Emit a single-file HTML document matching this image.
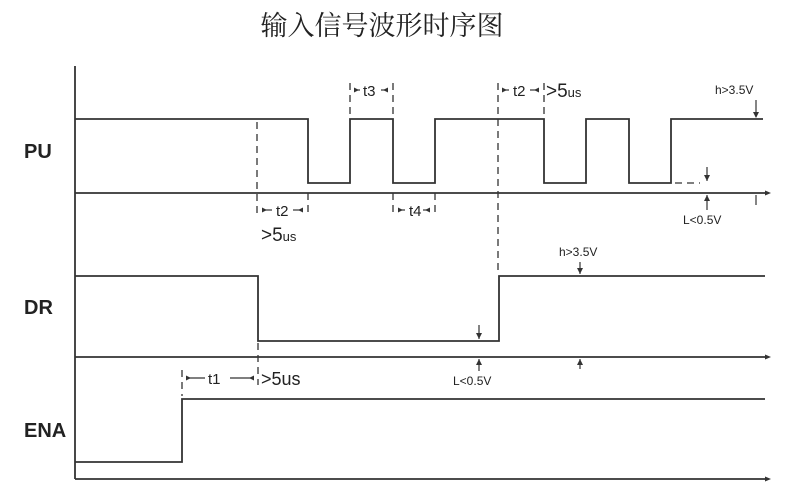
<!DOCTYPE html>
<html><head><meta charset="utf-8"><style>
body{margin:0;background:#fff;width:800px;height:499px;overflow:hidden}
svg{display:block}
text{font-family:"Liberation Sans","DejaVu Sans",sans-serif;fill:#222}
</style></head><body>
<svg width="800" height="499" viewBox="0 0 800 499">
<text x="382" y="35" font-size="27" text-anchor="middle" style='font-family:"Noto Serif CJK SC","Noto Sans CJK SC",serif' fill="#333">输入信号波形时序图</text>
<g stroke="#333" stroke-width="1.8" fill="none">
<line x1="75" y1="66" x2="75" y2="479"/>
<line x1="75" y1="193" x2="765" y2="193"/>
<line x1="75" y1="357" x2="765" y2="357"/>
<line x1="75" y1="479" x2="765" y2="479"/>
<polyline points="75,119 308,119 308,183 350,183 350,119 393,119 393,183 435,183 435,119 544,119 544,183 586,183 586,119 629,119 629,183 671,183 671,119 763,119"/>
<polyline points="75,276 258,276 258,341 499,341 499,276 765,276"/>
<polyline points="75,462 182,462 182,399 765,399"/>
</g>
<g fill="#333">
<polygon points="765,190.5 771,193 765,195.5"/>
<polygon points="765,354.5 771,357 765,359.5"/>
<polygon points="765,476.5 771,479 765,481.5"/>
<polygon points="753,112 756,118 759,112"/>
<polygon points="704,175 707,181 710,175"/>
<polygon points="704,201 707,195 710,201"/>
<polygon points="577,268 580,274 583,268"/>
<polygon points="577,365 580,359 583,365"/>
<polygon points="476,333 479,339 482,333"/>
<polygon points="476,365 479,359 482,365"/>
<polygon points="262,207.5 267,210 262,212.5"/>
<polygon points="303,207.5 298,210 303,212.5"/>
<polygon points="398,207.5 403,210 398,212.5"/>
<polygon points="430,207.5 425,210 430,212.5"/>
<polygon points="354,87.5 359,90 354,92.5"/>
<polygon points="388,87.5 383,90 388,92.5"/>
<polygon points="502,87.5 507,90 502,92.5"/>
<polygon points="539,87.5 534,90 539,92.5"/>
<polygon points="186,375.5 191,378 186,380.5"/>
<polygon points="254,375.5 249,378 254,380.5"/>
</g>
<g stroke="#333" stroke-width="1.3" fill="none" stroke-dasharray="7,5">
<line x1="257" y1="122" x2="257" y2="216"/>
<line x1="308" y1="193" x2="308" y2="216"/>
<line x1="350" y1="83" x2="350" y2="116"/>
<line x1="393" y1="83" x2="393" y2="116"/>
<line x1="393" y1="193" x2="393" y2="216"/>
<line x1="435" y1="193" x2="435" y2="216"/>
<line x1="498" y1="83" x2="498" y2="274"/>
<line x1="544" y1="83" x2="544" y2="116"/>
<line x1="258" y1="343" x2="258" y2="385"/>
<line x1="182" y1="370" x2="182" y2="396"/>
<line x1="675" y1="183" x2="700" y2="183"/>
</g>
<g stroke="#333" stroke-width="1.2">
<line x1="262" y1="210" x2="272" y2="210"/><line x1="293" y1="210" x2="303" y2="210"/>
<line x1="398" y1="210" x2="405" y2="210"/><line x1="423" y1="210" x2="430" y2="210"/>
<line x1="354" y1="90" x2="360" y2="90"/><line x1="381" y1="90" x2="388" y2="90"/>
<line x1="502" y1="90" x2="509" y2="90"/><line x1="530" y1="90" x2="539" y2="90"/>
<line x1="186" y1="378" x2="205" y2="378"/><line x1="230" y1="378" x2="254" y2="378"/>
<line x1="756" y1="100" x2="756" y2="117"/>
<line x1="707" y1="167" x2="707" y2="181"/>
<line x1="707" y1="195" x2="707" y2="210"/>
<line x1="756" y1="195" x2="756" y2="205"/>
<line x1="580" y1="262" x2="580" y2="274"/>
<line x1="580" y1="359" x2="580" y2="369"/>
<line x1="479" y1="325" x2="479" y2="339"/>
<line x1="479" y1="359" x2="479" y2="371"/>
</g>
<text x="24" y="158" font-size="20" font-weight="bold" fill="#333">PU</text>
<text x="24" y="314" font-size="20" font-weight="bold" fill="#333">DR</text>
<text x="24" y="437" font-size="20" font-weight="bold" fill="#333">ENA</text>
<text x="276" y="216" font-size="15">t2</text>
<text x="409" y="216" font-size="15">t4</text>
<text x="363" y="96" font-size="15">t3</text>
<text x="513" y="96" font-size="15">t2</text>
<text x="261" y="241" font-size="19">&gt;5<tspan font-size="13">us</tspan></text>
<text x="546" y="97" font-size="19">&gt;5<tspan font-size="13">us</tspan></text>
<text x="208" y="384" font-size="15">t1</text>
<text x="261" y="385" font-size="18">&gt;5us</text>
<text x="715" y="94" font-size="12">h&gt;3.5V</text>
<text x="683" y="224" font-size="12">L&lt;0.5V</text>
<text x="559" y="256" font-size="12">h&gt;3.5V</text>
<text x="453" y="385" font-size="12">L&lt;0.5V</text>
</svg>
</body></html>
